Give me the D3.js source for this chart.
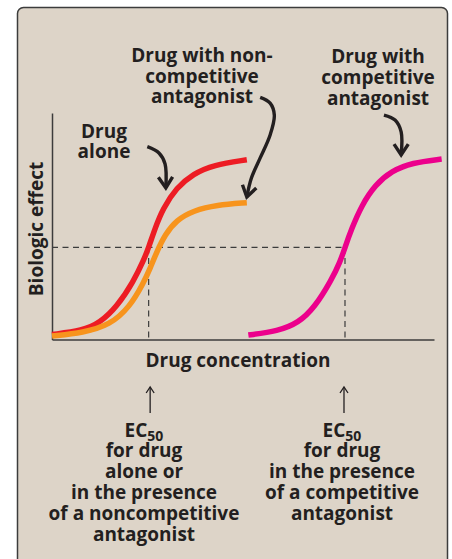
<!DOCTYPE html>
<html>
<head>
<meta charset="utf-8">
<script src="https://cdn.jsdelivr.net/npm/d3@7"></script>
<style>
	body { margin: 0; background: #fff; }
	svg text { font-family: "Open Sans", "Noto Sans", sans-serif; font-weight: 700; fill: #231f20; }
</style>
</head>
<body>
<div id="chart"></div>
<script>

// concentration (arbitrary units) and biologic effect (% of max)
var drugAloneX = [0, 8, 12.5, 17, 21.3, 24, 25.3, 27, 29, 32.6, 37, 42.2, 51];
var drugAloneY = [2.7, 4.8, 9, 17.8, 31.4, 43, 50, 60.5, 71, 82.5, 90, 94.8, 97.6];

var nonCompX = [0, 8.2, 15.2, 20.4, 23.9, 25.7, 27.4, 29.6, 32.6, 37, 43.1, 51];
var nonCompY = [1.9, 3.7, 7.9, 17.8, 30.5, 38.7, 47.5, 57, 64.9, 70, 73.1, 74.3];

var compX = [51.4, 59.2, 64.5, 68.8, 73.2, 75.4, 76.7, 78.4, 81.1, 84.6, 88.9, 94.2, 102];
var compY = [2.4, 4.6, 9, 17.5, 32.5, 42, 50, 60, 73, 84, 91.5, 96, 98];

var ec50 = [25.3, 76.7];
var halfEffect = 50;
var xExtent = [0, 100];
var yExtent = [0, 123];

// pointer arrows (same data units)
var arrowAloneX = [24.95, 28, 29.6, 29.8];
var arrowAloneY = [104.7, 101.3, 95.3, 82.3];
var arrowNonCompX = [54.5, 57.1, 58.2, 57.1, 54.5, 52.2, 51];
var arrowNonCompY = [131.5, 128.4, 121.9, 111.1, 98.6, 87.7, 77.4];
var arrowCompX = [86.9, 89.8, 91.4, 91.4];
var arrowCompY = [121.9, 119.2, 112.8, 100.2];

var labelNonComp = ["Drug with non-", "competitive", "antagonist"];
var labelComp = ["Drug with", "competitive", "antagonist"];
var labelAlone = ["Drug", "alone"];
var ecLeft = ["for drug", "alone or", "in the presence", "of a noncompetitive", "antagonist"];
var ecRight = ["for drug", "in the presence", "of a competitive", "antagonist"];


var W = 452, H = 559;

var svg = d3.select("#chart").append("svg")
	.attr("width", W)
	.attr("height", H);

// beige panel
svg.append("rect")
	.attr("x", 17.5)
	.attr("y", 7.5)
	.attr("width", 430)
	.attr("height", 620)
	.attr("rx", 6)
	.attr("fill", "#ddd4c8")
	.attr("stroke", "#3c3c3c")
	.attr("stroke-width", 1.5);

var x = d3.scaleLinear().domain(xExtent).range([52, 434]);
var y = d3.scaleLinear().domain(yExtent).range([339.5, 113]);

function zip(a, b) { return a.map(function(d, i) { return [d, b[i]]; }); }

// axes, no ticks
svg.append("g")
	.attr("transform", "translate(0," + y(0) + ")")
	.call(d3.axisBottom(x).ticks(0).tickSizeOuter(0))
	.select(".domain").attr("stroke", "#3c3c3c").attr("stroke-width", 1.5);

svg.append("g")
	.attr("transform", "translate(" + x(0) + ",0)")
	.call(d3.axisLeft(y).ticks(0).tickSizeOuter(0))
	.select(".domain").attr("stroke", "#3c3c3c").attr("stroke-width", 1.5);


// dashed EC50 guides
var dash = svg.append("g")
	.attr("stroke", "#3c3c3c")
	.attr("stroke-width", 1.2)
	.attr("stroke-dasharray", "6,4.5");

dash.append("line")
	.attr("x1", x(0)).attr("x2", x(ec50[1]))
	.attr("y1", y(halfEffect)).attr("y2", y(halfEffect));

dash.selectAll(".vguide")
	.data(ec50)
	.enter().append("line")
	.attr("class", "vguide")
	.attr("x1", function(d) { return x(d); })
	.attr("x2", function(d) { return x(d); })
	.attr("y1", y(halfEffect))
	.attr("y2", y(0));


// dose-response curves
var line = d3.line()
	.x(function(d) { return x(d[0]); })
	.y(function(d) { return y(d[1]); })
	.curve(d3.curveBasis);

var arrowLine = d3.line()
	.x(function(d) { return x(d[0]); })
	.y(function(d) { return y(d[1]); })
	.curve(d3.curveCatmullRom.alpha(0.5));

var curves = [
	{ pts: zip(drugAloneX, drugAloneY), color: "#ed1c24" },
	{ pts: zip(nonCompX, nonCompY), color: "#f7941d" },
	{ pts: zip(compX, compY), color: "#ec008c" }
];

svg.selectAll(".curve")
	.data(curves)
	.enter().append("path")
	.attr("class", "curve")
	.attr("d", function(d) { return line(d.pts); })
	.attr("fill", "none")
	.attr("stroke", function(d) { return d.color; })
	.attr("stroke-width", 5.5);


// curved pointer arrows with chevron heads
function drawArrow(xs, ys) {
	var pts = zip(xs, ys);
	var g = svg.append("g")
		.attr("fill", "none")
		.attr("stroke", "#231f20")
		.attr("stroke-width", 3.4);
	g.append("path").attr("d", arrowLine(pts));

	var n = pts.length;
	var tx = x(pts[n - 1][0]), ty = y(pts[n - 1][1]);
	var px = x(pts[n - 2][0]), py = y(pts[n - 2][1]);
	var ang = Math.atan2(ty - py, tx - px);
	var len = 13, spread = 0.58;
	var a1 = ang + Math.PI - spread, a2 = ang + Math.PI + spread;
	g.append("path")
		.attr("stroke-linejoin", "miter")
		.attr("d", "M" + (tx + len * Math.cos(a1)) + "," + (ty + len * Math.sin(a1)) +
			"L" + tx + "," + ty +
			"L" + (tx + len * Math.cos(a2)) + "," + (ty + len * Math.sin(a2)));
}

drawArrow(arrowAloneX, arrowAloneY);
drawArrow(arrowNonCompX, arrowNonCompY);
drawArrow(arrowCompX, arrowCompY);


// text blocks
function block(lines, cx, y0, step) {
	svg.selectAll(null)
		.data(lines)
		.enter().append("text")
		.attr("x", cx)
		.attr("y", function(d, i) { return y0 + i * step; })
		.attr("text-anchor", "middle")
		.attr("font-size", 19)
		.text(function(d) { return d; });
}

block(labelNonComp, 202, 62, 20.5);
block(labelComp, 378, 63, 21);
block(labelAlone, 104, 138, 20);

svg.append("text")
	.attr("transform", "translate(43," + 229 + ") rotate(-90)")
	.attr("text-anchor", "middle")
	.attr("font-size", 19)
	.text("Biologic effect");

svg.append("text")
	.attr("x", 238)
	.attr("y", 367)
	.attr("text-anchor", "middle")
	.attr("font-size", 19)
	.text("Drug concentration");


// EC50 pointers below the axis
var up = svg.append("g")
	.attr("fill", "none")
	.attr("stroke", "#231f20")
	.attr("stroke-width", 1.3);

var ecCenters = [144, 342];

ec50.forEach(function(d, i) {
	var ax = x(d) + (i == 0 ? 1.5 : -1);
	up.append("line").attr("x1", ax).attr("x2", ax).attr("y1", 387).attr("y2", 413);
	up.append("path").attr("d", "M" + (ax - 4) + ",393 L" + ax + ",387 L" + (ax + 4) + ",393");

	var t = svg.append("text")
		.attr("x", ecCenters[i])
		.attr("y", 437)
		.attr("text-anchor", "middle")
		.attr("font-size", 19);
	t.append("tspan").text("EC");
	t.append("tspan").attr("font-size", 14).attr("dy", 4).text("50");
});

block(ecLeft, 144, 457, 21);
block(ecRight, 342, 457, 21);

</script>
</body>
</html>
